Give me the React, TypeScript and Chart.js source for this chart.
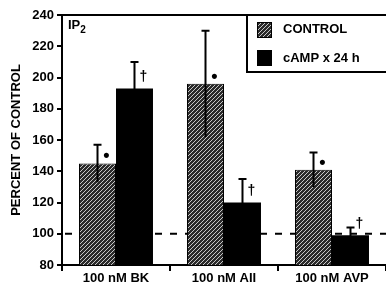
import React, { useEffect, useRef } from 'react';
import { Chart, registerables } from 'chart.js';

Chart.register(...registerables);

const categories = ['100 nM BK', '100 nM AII', '100 nM AVP'];
const seriesLabels = ['CONTROL', 'cAMP x 24 h'];
const controlValues = [145, 196, 141];
const controlErrors = [12, 34, 11];
const campValues = [193, 120, 99];
const campErrors = [17, 15, 5];
const controlMarks = ['•', '•', '•'];
const campMarks = ['†', '†', '†'];
const yMin = 80;
const yMax = 240;
const yStep = 20;
const baseline = 100;
const panelLabel = 'IP';
const panelSub = '2';
const yTitle = 'PERCENT OF CONTROL';

const FONT = '"Liberation Sans", Arial, Helvetica, sans-serif';

function makeHatch(): CanvasPattern | string {
  const c = document.createElement('canvas');
  c.width = 4;
  c.height = 4;
  const g = c.getContext('2d');
  if (!g) return '#444';
  g.fillStyle = '#2a2a2a';
  g.fillRect(0, 0, 4, 4);
  g.strokeStyle = '#c8c8c8';
  g.lineWidth = 1;
  g.beginPath();
  g.moveTo(-1, 5);
  g.lineTo(5, -1);
  g.moveTo(-1, 1);
  g.lineTo(1, -1);
  g.moveTo(3, 5);
  g.lineTo(5, 3);
  g.stroke();
  return g.createPattern(c, 'repeat') || '#444';
}

export default function App() {
  const ref = useRef<HTMLCanvasElement | null>(null);

  useEffect(() => {
    document.body.style.margin = '0';
    const canvas = ref.current;
    if (!canvas) return;
    const hatch = makeHatch();

    const overlay = {
      id: 'overlay',
      beforeDatasetsDraw(chart: any) {
        const { ctx, chartArea, scales } = chart;
        const y = scales.y.getPixelForValue(baseline);
        ctx.save();
        ctx.strokeStyle = '#000';
        ctx.lineWidth = 2;
        ctx.setLineDash([7, 8]);
        ctx.beginPath();
        ctx.moveTo(chartArea.left + 3, y);
        ctx.lineTo(chart.width, y);
        ctx.stroke();
        ctx.restore();
      },
      afterDatasetsDraw(chart: any) {
        const { ctx, scales } = chart;
        const ys = scales.y;
        const errs = [controlErrors, campErrors];
        const marks = [controlMarks, campMarks];
        errs.forEach((er, di) => {
          const meta = chart.getDatasetMeta(di);
          meta.data.forEach((bar: any, i: number) => {
            const v = chart.data.datasets[di].data[i] as number;
            const x = bar.x;
            const top = ys.getPixelForValue(v + er[i]);
            const bot = ys.getPixelForValue(v - er[i]);
            ctx.save();
            ctx.strokeStyle = '#000';
            ctx.lineWidth = 2;
            ctx.beginPath();
            ctx.moveTo(x, bot);
            ctx.lineTo(x, top);
            ctx.moveTo(x - 4, top);
            ctx.lineTo(x + 4, top);
            ctx.stroke();
            ctx.fillStyle = '#000';
            ctx.textAlign = 'center';
            ctx.textBaseline = 'middle';
            if (di === 0) {
              ctx.font = `bold 18px ${FONT}`;
              ctx.fillText(marks[di][i], x + 9, bar.y - 7);
            } else {
              ctx.font = `bold 14px ${FONT}`;
              ctx.fillText(marks[di][i], x + 9, bar.y - 11);
            }
            ctx.restore();
          });
        });
      },
      afterDraw(chart: any) {
        const { ctx, chartArea } = chart;
        ctx.save();
        ctx.strokeStyle = '#000';
        ctx.lineWidth = 2;
        ctx.beginPath();
        ctx.moveTo(chartArea.left - 1, chartArea.top);
        ctx.lineTo(chart.width, chartArea.top);
        ctx.stroke();
        ctx.fillStyle = '#000';
        ctx.textBaseline = 'alphabetic';
        ctx.textAlign = 'left';
        ctx.font = `bold 13px ${FONT}`;
        ctx.fillText(panelLabel, chartArea.left + 6, chartArea.top + 14);
        const w = ctx.measureText(panelLabel).width;
        ctx.font = `bold 10px ${FONT}`;
        ctx.fillText(panelSub, chartArea.left + 6 + w, chartArea.top + 18);
        const lx = 247;
        const ly = chartArea.top;
        ctx.lineWidth = 2;
        ctx.strokeRect(lx, ly, chart.width - lx + 5, 57);
        ctx.fillStyle = hatch as any;
        ctx.fillRect(257, 22, 14, 15);
        ctx.lineWidth = 1;
        ctx.strokeRect(257.5, 22.5, 14, 15);
        ctx.fillStyle = '#000';
        ctx.fillRect(257, 50, 15, 16);
        ctx.font = `bold 13px ${FONT}`;
        ctx.textBaseline = 'middle';
        ctx.fillText(seriesLabels[0], 283, 29);
        ctx.fillText(seriesLabels[1], 283, 58);
        ctx.restore();
      },
    };

    const chart = new Chart(canvas, {
      type: 'bar',
      data: {
        labels: categories,
        datasets: [
          {
            label: seriesLabels[0],
            data: controlValues,
            backgroundColor: hatch as any,
            borderColor: '#000',
            borderWidth: 1,
            categoryPercentage: 0.685,
            barPercentage: 1,
          },
          {
            label: seriesLabels[1],
            data: campValues,
            backgroundColor: '#000',
            borderColor: '#000',
            borderWidth: 0,
            categoryPercentage: 0.685,
            barPercentage: 1,
          },
        ],
      },
      options: {
        responsive: false,
        animation: false,
        devicePixelRatio: 1,
        layout: { padding: { top: 15, right: 0, left: 0, bottom: 0 } },
        plugins: {
          legend: { display: false },
          tooltip: { enabled: false },
          title: { display: false },
        },
        scales: {
          x: {
            offset: true,
            grid: {
              display: true,
              drawOnChartArea: false,
              drawTicks: true,
              tickLength: 6,
              color: '#000',
              lineWidth: 2,
              offset: true,
            },
            border: { display: true, color: '#000', width: 2 },
            ticks: {
              color: '#000',
              font: { family: FONT, size: 13, weight: 'bold' },
              padding: 0,
              maxRotation: 0,
            },
            afterFit: (s: any) => {
              s.height = 27;
            },
          },
          y: {
            min: yMin,
            max: yMax,
            grid: {
              display: true,
              drawOnChartArea: false,
              drawTicks: true,
              tickLength: 5,
              color: '#000',
              lineWidth: 2,
            },
            border: { display: true, color: '#000', width: 2 },
            ticks: {
              stepSize: yStep,
              color: '#000',
              font: { family: FONT, size: 13, weight: 'bold' },
              padding: 3,
            },
            title: {
              display: true,
              text: yTitle,
              color: '#000',
              font: { family: FONT, size: 13, weight: 'bold' },
              padding: { top: 9, bottom: 0 },
            },
            afterFit: (s: any) => {
              s.width = 62;
            },
          },
        },
      },
      plugins: [overlay],
    });

    return () => chart.destroy();
  }, []);

  return (
    <div style={{ position: 'absolute', left: 0, top: 0, width: 386, height: 292, background: '#fff' }}>
      <canvas ref={ref} width={386} height={292} />
    </div>
  );
}
